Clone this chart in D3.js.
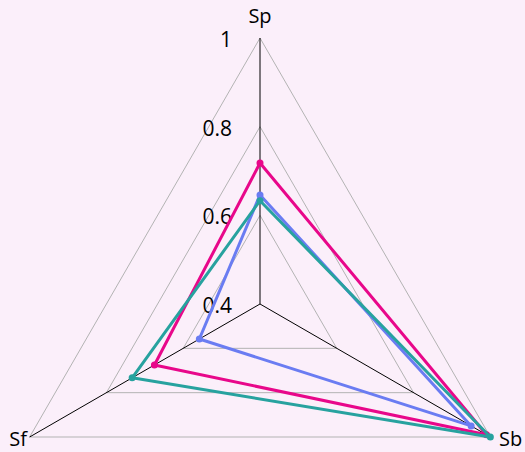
<!DOCTYPE html>
<meta charset="utf-8">
<style>
  body { margin: 0; background: #fbeffa; }
  text { font-family: "Open Sans", "Noto Sans", sans-serif; fill: #000; }
</style>
<body>
<script src="https://cdn.jsdelivr.net/npm/d3@7/dist/d3.min.js"></script>
<script>

// axes (clockwise from top) and values
var axes = ["Sp", "Sb", "Sf"];
var ticks = [0.4, 0.6, 0.8, 1];
var pinkVals = [0.718, 0.99, 0.675];
var blueVals = [0.646, 0.95, 0.558];
var tealVals = [0.633, 1.0, 0.733];

var series = [
  {name: "pink", values: pinkVals, color: "#e8078a"},
  {name: "blue", values: blueVals, color: "#6a7cf2"},
  {name: "teal", values: tealVals, color: "#27a29f"}
];

var width = 525, height = 452;
var cx = 260, cy = 304, R = 266;

var r = d3.scaleLinear().domain([0.4, 1]).range([0, R]);

var svg = d3.select("body").append("svg")
    .attr("width", width)
    .attr("height", height);

var g = svg.append("g").attr("transform", "translate(" + cx + "," + cy + ")");

function angle(i) { return -Math.PI / 2 + i * 2 * Math.PI / axes.length; }
function pt(v, i) { return [r(v) * Math.cos(angle(i)), r(v) * Math.sin(angle(i))]; }

// grid triangles
g.selectAll(".grid")
    .data(ticks.filter(function(t) { return t > 0.4; }))
  .enter().append("polygon")
    .attr("class", "grid")
    .attr("points", function(t) { return axes.map(function(a, i) { return pt(t, i).join(","); }).join(" "); })
    .attr("fill", "none")
    .attr("stroke", "#b3b3b3")
    .attr("stroke-width", 1);

// spokes
g.selectAll(".spoke")
    .data(axes)
  .enter().append("line")
    .attr("class", "spoke")
    .attr("x1", 0).attr("y1", 0)
    .attr("x2", function(d, i) { return pt(1, i)[0]; })
    .attr("y2", function(d, i) { return pt(1, i)[1]; })
    .attr("stroke", "#000")
    .attr("stroke-width", 1);

// tick labels on the top spoke
g.selectAll(".tick")
    .data(ticks)
  .enter().append("text")
    .attr("class", "tick")
    .attr("x", -28)
    .attr("y", function(t) { return -r(t) + 9; })
    .attr("text-anchor", "end")
    .style("font-size", "21px")
    .text(function(t) { return t; });

// series
var line = d3.line();
series.forEach(function(s) {
  var pts = s.values.map(function(v, i) { return pt(v, i); });
  g.append("path")
      .attr("d", line(pts) + "Z")
      .attr("fill", "none")
      .attr("stroke", s.color)
      .attr("stroke-width", 3)
      .attr("stroke-linejoin", "round");
  g.selectAll(".dot-" + s.name)
      .data(pts)
    .enter().append("circle")
      .attr("cx", function(d) { return d[0]; })
      .attr("cy", function(d) { return d[1]; })
      .attr("r", 3.5)
      .attr("fill", s.color);
});

// axis labels
var labelPos = [
  {x: 0, y: -281, anchor: "middle"},
  {x: 239, y: 142, anchor: "start"},
  {x: -233, y: 142, anchor: "end"}
];
g.selectAll(".axis-label")
    .data(axes)
  .enter().append("text")
    .attr("class", "axis-label")
    .attr("x", function(d, i) { return labelPos[i].x; })
    .attr("y", function(d, i) { return labelPos[i].y; })
    .attr("text-anchor", function(d, i) { return labelPos[i].anchor; })
    .style("font-size", "20px")
    .text(function(d) { return d; });

</script>
</body>
